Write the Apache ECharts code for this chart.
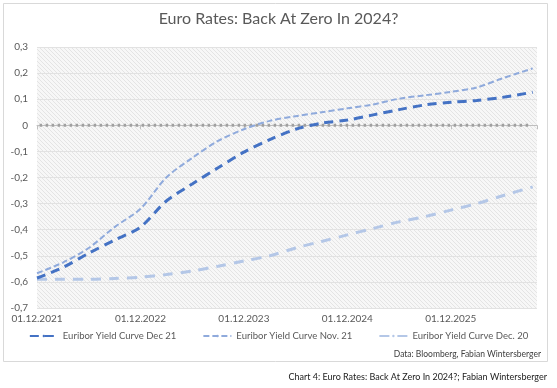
<!DOCTYPE html>
<html><head><meta charset="utf-8">
<script src="https://cdn.jsdelivr.net/npm/echarts@6/dist/echarts.min.js"></script>
<style>html,body{margin:0;padding:0;background:#fff}#c{width:557px;height:388px}</style>
</head><body><div id="c"></div>
<script>
// months since 01.12.2021
var months = [0,3,6,9,12,15,18,21,24,27,30,33,36,39,42,45,48,51,54,57.5];
var dec21 = [-0.585,-0.545,-0.49,-0.44,-0.39,-0.29,-0.225,-0.163,-0.103,-0.055,-0.015,0.008,0.02,0.04,0.06,0.078,0.088,0.095,0.107,0.127];
var nov21 = [-0.567,-0.526,-0.47,-0.39,-0.32,-0.2,-0.125,-0.06,-0.015,0.017,0.035,0.05,0.065,0.08,0.102,0.115,0.128,0.145,0.18,0.218];
var dec20 = [-0.59,-0.59,-0.59,-0.587,-0.582,-0.572,-0.558,-0.54,-0.52,-0.5,-0.47,-0.445,-0.42,-0.395,-0.37,-0.35,-0.325,-0.3,-0.27,-0.236];
var zeroLine = [0, 0];
var zeroRange = [0.3, 57];
var xLabels = ['01.12.2021','01.12.2022','01.12.2023','01.12.2024','01.12.2025'];
var seriesNames = ['Euribor Yield Curve Dec 21','Euribor Yield Curve Nov. 21','Euribor Yield Curve Dec. 20'];

function pair(v){ return months.map(function(m,i){ return [m, v[i]]; }); }

var pc = document.createElement('canvas');
pc.width = 4; pc.height = 4;
var ctx = pc.getContext('2d');
ctx.fillStyle = '#f7f7f7'; ctx.fillRect(0,0,4,4);
ctx.strokeStyle = '#e4e4e4'; ctx.lineWidth = 1;
ctx.beginPath(); ctx.moveTo(0,0); ctx.lineTo(4,4); ctx.stroke();
ctx.beginPath(); ctx.moveTo(-2,2); ctx.lineTo(2,6); ctx.stroke();
ctx.beginPath(); ctx.moveTo(2,-2); ctx.lineTo(6,2); ctx.stroke();

var FONT = 'Lato';
var chart = echarts.init(document.getElementById('c'), null, {renderer:'canvas'});
chart.setOption({
  animation:false,
  backgroundColor:'#fff',
  textStyle:{fontFamily:FONT},
  title:{text:'Euro Rates: Back At Zero In 2024?', left:'center', top:6,
    textStyle:{fontFamily:FONT, fontSize:16, fontWeight:'normal', color:'#595959'}},
  grid:{left:37, right:20, top:47, bottom:80, show:true, borderWidth:0, z:0,
    backgroundColor:{image:pc, repeat:'repeat'}},
  xAxis:{type:'value', min:0, max:58, interval:12,
    axisLine:{show:true, lineStyle:{color:'#bfbfbf', width:1}},
    axisTick:{show:true, length:4, lineStyle:{color:'#bfbfbf'}},
    splitLine:{show:false},
    axisLabel:{color:'#595959', fontSize:10, fontFamily:FONT, margin:6,
      formatter:function(v){ return xLabels[Math.round(v/12)] || ''; }}},
  yAxis:{type:'value', min:-0.7, max:0.3, interval:0.1,
    axisLine:{show:false}, axisTick:{show:false},
    splitLine:{show:true, lineStyle:{color:'#e2e2e2', width:1}},
    axisLabel:{color:'#595959', fontSize:10, fontFamily:FONT, margin:9,
      formatter:function(v){ var s = (Math.round(v*10)/10).toString(); return s.replace('.',','); }}},
  legend:{bottom:42, left:'center', itemWidth:28, itemHeight:3, itemGap:26,
    textStyle:{color:'#595959', fontSize:9.5, fontFamily:FONT},
    data:seriesNames},
  graphic:[
    {type:'rect', shape:{x:3.5,y:3.5,width:544,height:358}, style:{fill:'none', stroke:'#d9d9d9', lineWidth:1}, z:-1},
    {type:'text', right:16, top:350, style:{text:'Data: Bloomberg, Fabian Wintersberger', fill:'#404040', font:'8.5px '+FONT}},
    {type:'text', right:10, top:373, style:{text:'Chart 4: Euro Rates: Back At Zero In 2024?; Fabian Wintersberger', fill:'#222', font:'9px '+FONT}}
  ],
  series:[
    {name:seriesNames[0], type:'line', data:pair(dec21), symbol:'none', smooth:0.3, z:8,
      legendIcon:'path://M0,0H11V3H0Z M17,0H28V3H17Z',
      lineStyle:{color:'#4472C4', width:3, type:[9,6]}, itemStyle:{color:'#4472C4'}},
    {name:seriesNames[1], type:'line', data:pair(nov21), symbol:'none', smooth:0.3, z:7,
      legendIcon:'path://M0,0.5H5V2.5H0Z M8,0.5H13V2.5H8Z M16,0.5H21V2.5H16Z M24,0.5H28V2.5H24Z',
      lineStyle:{color:'#8FAADC', width:2, type:[6,3]}, itemStyle:{color:'#8FAADC'}},
    {name:seriesNames[2], type:'line', data:pair(dec20), symbol:'none', smooth:0.3, z:6,
      legendIcon:'path://M0,0H9V3H0Z M16,0H28V3H16Z',
      lineStyle:{color:'#B4C7E7', width:3, type:[10,8]}, itemStyle:{color:'#B4C7E7'}},
    {name:'zero', type:'line', data:zeroRange.map(function(m,i){ return [m, zeroLine[i]]; }),
      symbol:'none', z:5, silent:true,
      lineStyle:{color:'#a0a0a0', width:3, type:[2.5,3.5], cap:'butt'}}
  ]
});
</script></body></html>
